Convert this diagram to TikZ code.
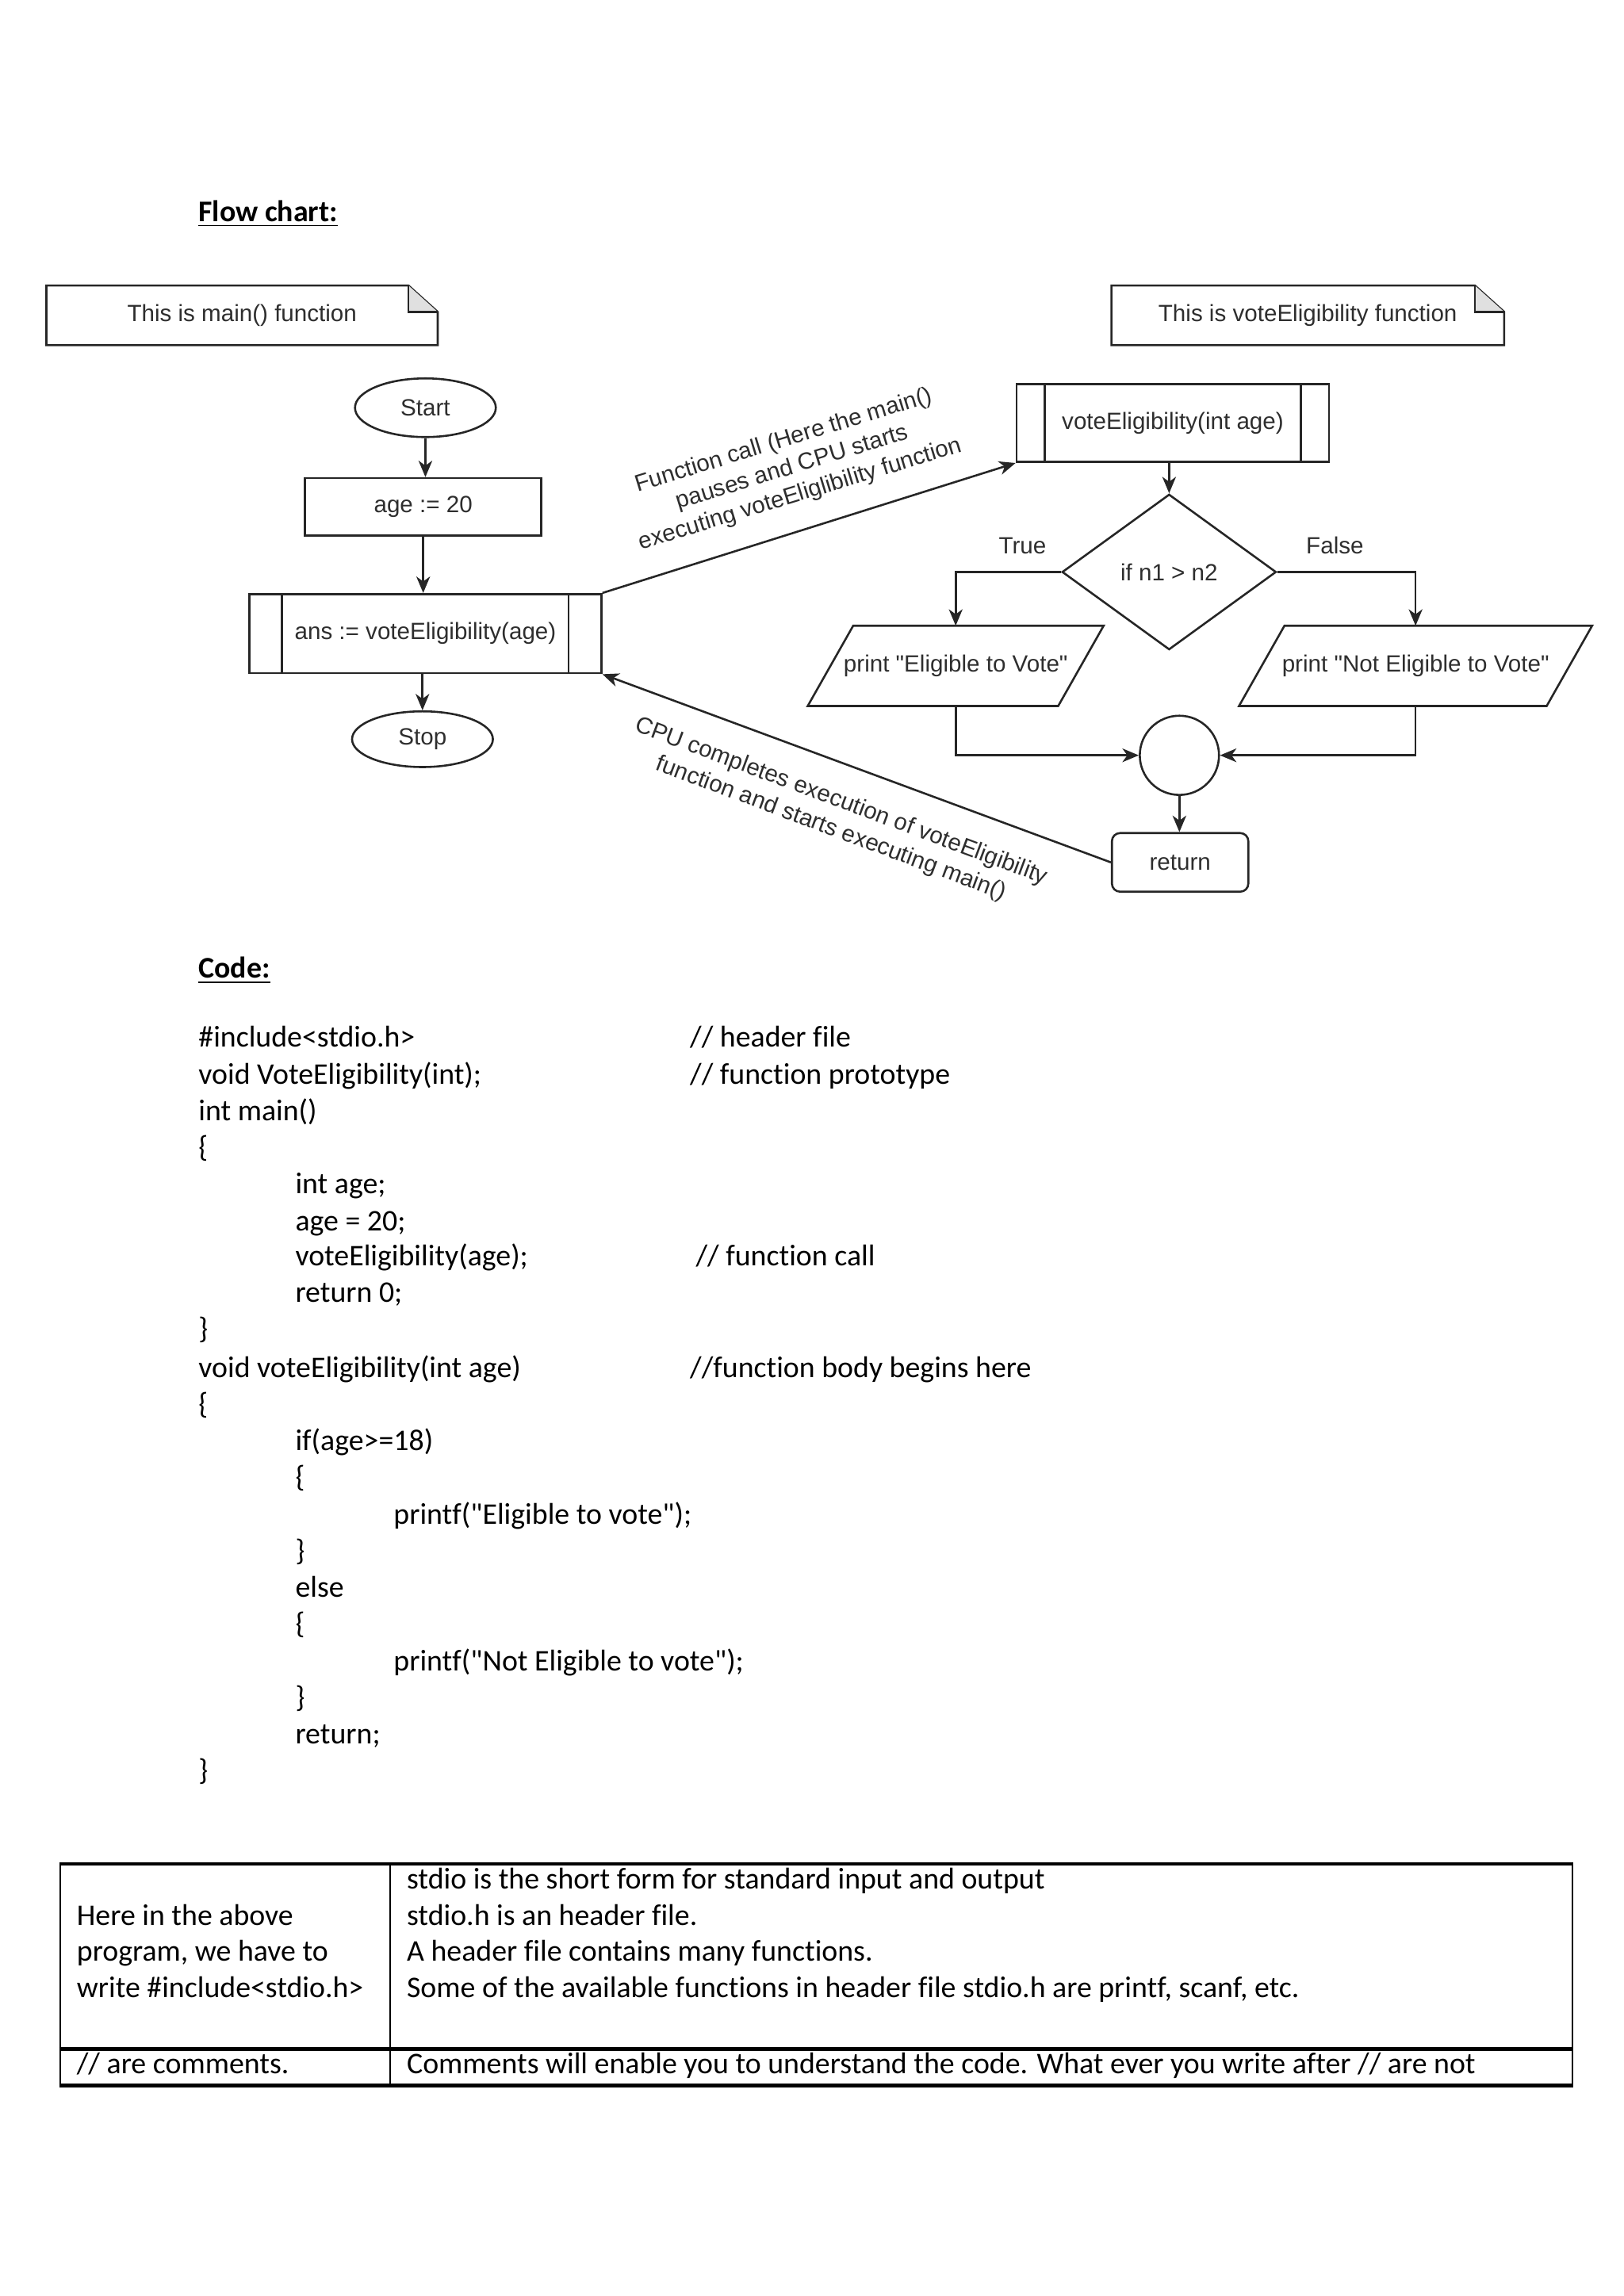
\documentclass[tikz,border=0pt]{standalone}
\usepackage{fontspec}
\setmainfont{Carlito}
\newfontfamily\calib{Carlito}[Ligatures={NoCommon}]
\newfontfamily\arialf{Liberation Sans}
\usetikzlibrary{arrows.meta,shapes.geometric,calc}
\newlength{\myu}
\setlength{\myu}{0.5377pt}
\begin{document}
\begin{tikzpicture}[x=0.5377pt,y=-0.5377pt,
  fcline/.style={draw=black!85, line width=0.75pt},
  fc/.style={fcline, font=\arialf\fontsize{8.6}{10.3}\selectfont, text=black!82, inner sep=0pt},
  fctext/.style={font=\arialf\fontsize{8.6}{10.3}\selectfont, text=black!82, inner sep=0pt},
  arr/.style={fcline, -{Stealth[length=6pt,width=5pt,inset=1.8pt]}},
  code/.style={anchor=base west, inner sep=0pt, font=\calib\fontsize{11}{13.4}\selectfont},
  head/.style={anchor=base west, inner sep=0pt, font=\calib\bfseries\fontsize{11}{13.4}\selectfont},
  notebox/.style={draw=none, fctext, minimum width=#1*\myu, minimum height=40*\myu},
]
\useasboundingbox (0,0) rectangle (1107,1565.5);
\fill[white] (0,0) rectangle (1107,1565.5);

% ---------- headings ----------
\node[head] (h1) at (135,151) {\underline{Flow chart:}};
\node[head] (h2) at (135,667) {\underline{Code:}};

% ---------- notes ----------
\node[notebox=266] (nm) at (165,215) {This is main() function};
\node[notebox=267] (nv) at (891.5,215) {This is voteEligibility function};
\foreach \n in {nm,nv}{
  \draw[fcline] (\n.north west) -- ($(\n.north east)+(-20,0)$) -- ($(\n.north east)+(0,18)$) -- (\n.south east) -- (\n.south west) -- cycle;
  \filldraw[fcline, fill=black!12] ($(\n.north east)+(-20,0)$) -- ($(\n.north east)+(-20,18)$) -- ($(\n.north east)+(0,18)$);
}

% ---------- main flow ----------
\node[fc, ellipse, minimum width=96*\myu, minimum height=40*\myu] (start) at (290,278) {Start};
\node[fc, rectangle, minimum width=161*\myu, minimum height=39*\myu] (age) at (288.5,345.5) {age := 20};
\node[fc, rectangle, minimum width=240*\myu, minimum height=54*\myu] (ans) at (290,432) {ans := voteEligibility(age)};
\draw[fcline] ($(ans.north west)+(23,0)$) -- ($(ans.south west)+(23,0)$);
\draw[fcline] ($(ans.north east)+(-23,0)$) -- ($(ans.south east)+(-23,0)$);
\node[fc, ellipse, minimum width=96*\myu, minimum height=38*\myu] (stop) at (288,504) {Stop};

\draw[arr] (start.south) -- (start.south |- age.north);
\draw[arr] (age.south) -- (age.south |- ans.north);
\draw[arr] (ans.south -| stop.north) -- (stop.north);

% ---------- voteEligibility flow ----------
\node[fc, rectangle, minimum width=213*\myu, minimum height=53*\myu] (vote) at (799.5,288.5) {voteEligibility(int age)};
\draw[fcline] ($(vote.north west)+(20,0)$) -- ($(vote.south west)+(20,0)$);
\draw[fcline] ($(vote.north east)+(-20,0)$) -- ($(vote.south east)+(-20,0)$);

\node[fc, diamond, minimum width=146*\myu, minimum height=106*\myu] (dia) at (797,390) {if n1 > n2};

\node[fctext] (tl) at (697,372) {True};
\node[fctext] (fl) at (910,372) {False};

\node[fctext, minimum width=170*\myu, minimum height=54*\myu] (pL) at (651.5,454) {print "Eligible to Vote"};
\draw[fcline] ($(pL.north west)+(15.5,0)$) -- ($(pL.north east)+(15.5,0)$) -- ($(pL.south east)+(-15.5,0)$) -- ($(pL.south west)+(-15.5,0)$) -- cycle;
\node[fctext, minimum width=209*\myu, minimum height=54*\myu] (pR) at (965,454) {print "Not Eligible to Vote"};
\draw[fcline] ($(pR.north west)+(15.5,0)$) -- ($(pR.north east)+(15.5,0)$) -- ($(pR.south east)+(-15.5,0)$) -- ($(pR.south west)+(-15.5,0)$) -- cycle;

\node[fc, circle, minimum size=54*\myu] (circ) at (804,515) {};
\node[fc, rectangle, rounded corners=3pt, minimum width=93*\myu, minimum height=40*\myu] (ret) at (804.5,588) {return};

\draw[arr] (vote.south -| dia.north) -- (dia.north);
\draw[arr] (dia.west) -| (pL.north);
\draw[arr] (dia.east) -| (pR.north);
\draw[arr] (pL.south) |- (circ.west);
\draw[arr] (pR.south) |- (circ.east);
\draw[arr] (circ.south) -- (circ.south |- ret.north);

% ---------- calls between functions ----------
\draw[arr] (ans.north east) -- (vote.south west);
\draw[arr] (ret.west) -- (ans.south east);

\node[fctext, align=center, rotate=17] (lab1) at (540,319)
  {Function call (Here the main()\\pauses and CPU starts\\executing voteEliglibility function};
\node[fctext, align=center, rotate=-20.5, font=\arialf\fontsize{8.6}{10.6}\selectfont] (lab2) at (570,556)
  {CPU completes execution of voteEligibility\\function and starts executing main()};

% ---------- code ----------
\node[code] (c1)  at (135,714)  {\#include<stdio.h>};
\node[code] (k1)  at (470,714)  {// header file};
\node[code] (c2)  at (135,739)  {void VoteEligibility(int);};
\node[code] (k2)  at (470,739)  {// function prototype};
\node[code] (c3)  at (135,764)  {int main()};
\node[code] (c4)  at (135,789)  {\{};
\node[code] (c5)  at (201,814)  {int age;};
\node[code] (c6)  at (201,839)  {age = 20;};
\node[code] (c7)  at (201,863)  {voteEligibility(age);};
\node[code] (k7)  at (474,863)  {// function call};
\node[code] (c8)  at (201,888)  {return 0;};
\node[code] (c9)  at (135,913)  {\}};
\node[code] (c10) at (135,939)  {void voteEligibility(int age)};
\node[code] (k10) at (470,939)  {//function body begins here};
\node[code] (c11) at (135,964)  {\{};
\node[code] (c12) at (201,989)  {if(age>=18)};
\node[code] (c13) at (201,1014) {\{};
\node[code] (c14) at (268,1039) {printf("Eligible to vote");};
\node[code] (c15) at (201,1064) {\}};
\node[code] (c16) at (201,1089) {else};
\node[code] (c17) at (201,1114) {\{};
\node[code] (c18) at (268,1139) {printf("Not Eligible to vote");};
\node[code] (c19) at (201,1164) {\}};
\node[code] (c20) at (201,1189) {return;};
\node[code] (c21) at (135,1214) {\}};

% ---------- table ----------
\draw[line width=0.7pt] (41,1271) -- (41,1422) (266,1271) -- (266,1422) (1072,1271) -- (1072,1422);
\draw[line width=1.3pt] (40.5,1271) -- (1072.5,1271) (40.5,1397) -- (1072.5,1397) (40.5,1422) -- (1072.5,1422);

\node[code] (t1) at (52,1313) {Here in the above};
\node[code] (t2) at (52,1337) {program, we have to};
\node[code] (t3) at (52,1362) {write \#include<stdio.h>};
\node[code] (r1) at (277,1288) {stdio is the short form for standard input and output};
\node[code] (r2) at (277,1313) {stdio.h is an header file.};
\node[code] (r3) at (277,1337) {A header file contains many functions.};
\node[code] (r4) at (277,1362) {Some of the available functions in header file stdio.h are printf, scanf, etc.};
\node[code] (t4) at (52,1414) {// are comments.};
\node[code] (r5) at (277,1414) {Comments will enable you to understand the code. What ever you write after // are not};
\end{tikzpicture}
\end{document}
